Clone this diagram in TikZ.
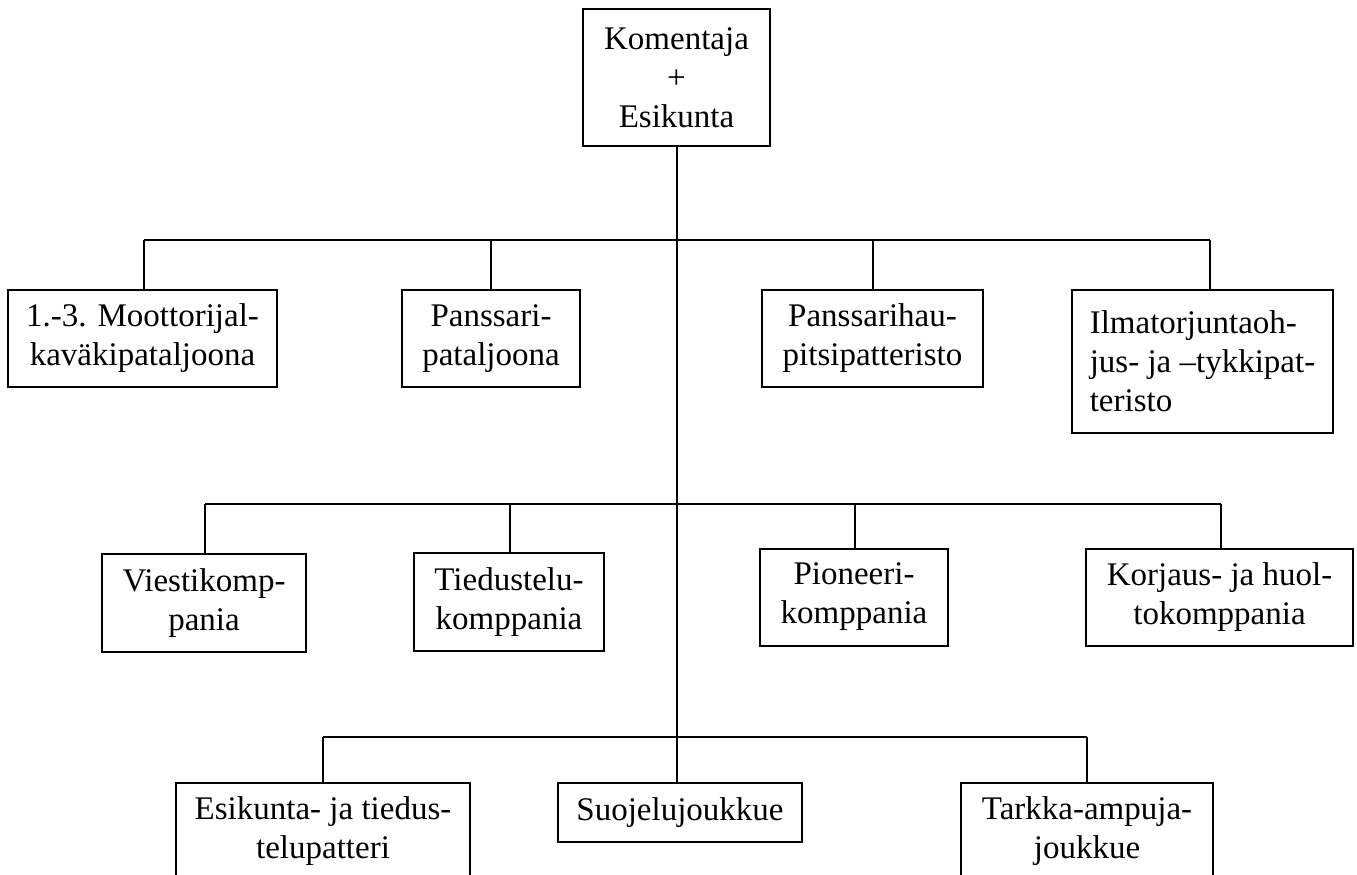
\documentclass[tikz,border=0pt]{standalone}
\usepackage{fontspec}
\setmainfont{Liberation Serif}
\begin{document}
\begin{tikzpicture}[x=1pt,y=-1pt,
  box/.style={draw=black, line width=2pt, fill=white, inner sep=2pt,
    align=center, font=\fontsize{33}{39}\selectfont},
  link/.style={draw=black, line width=2pt}]
\useasboundingbox (0,0) rectangle (1357,875);
\clip (0,0) rectangle (1357,875);
% top
\node[box, minimum width=187, minimum height=137] (top) at (676.5,77.5) {Komentaja\\+\\Esikunta};
% row 1
\node[box, minimum width=269, minimum height=97] (b1) at (142.5,338.5) {1.-3. Moottorijal-\\kaväkipataljoona};
\node[box, minimum width=178, minimum height=97] (b2) at (491,338.5) {Panssari-\\pataljoona};
\node[box, minimum width=221, minimum height=97] (b3) at (872.5,338.5) {Panssarihau-\\pitsipatteristo};
\node[box, align=left, minimum width=261, minimum height=143] (b4) at (1202.5,361.5) {Ilmatorjuntaoh-\\jus- ja –tykkipat-\\teristo};
% row 2
\node[box, minimum width=204, minimum height=98] (v) at (204,603) {Viestikomp-\\pania};
\node[box, minimum width=190, minimum height=98] (t) at (509,602) {Tiedustelu-\\komppania};
\node[box, minimum width=188, minimum height=97] (p) at (854,597) {Pioneeri-\\komppania};
\node[box, minimum width=267, minimum height=97] (k) at (1219.5,597) {Korjaus- ja huol-\\tokomppania};
% row 3
\node[box, minimum width=294, minimum height=97] (e) at (323,831.5) {Esikunta- ja tiedus-\\telupatteri};
\node[box, minimum width=244, minimum height=59] (s) at (680,812.5) {Suojelujoukkue};
\node[box, minimum width=252, minimum height=97] (ta) at (1087,831.5) {Tarkka-ampuja-\\joukkue};
% buses
\coordinate (r1a) at (144,240);
\coordinate (r1b) at (491,240);
\coordinate (r1c) at (873,240);
\coordinate (r1d) at (1210,240);
\coordinate (r2a) at (205,504);
\coordinate (r2b) at (510,504);
\coordinate (r2c) at (855,504);
\coordinate (r2d) at (1221,504);
\coordinate (r3a) at (323,737);
\coordinate (r3b) at (1087,737);
% trunk
\draw[link] (top.south) -- (top.south |- s.north);
% row 1
\draw[link] (r1a) -- (r1d);
\draw[link] (r1a) -- (r1a |- b1.north);
\draw[link] (r1b) -- (r1b |- b2.north);
\draw[link] (r1c) -- (r1c |- b3.north);
\draw[link] (r1d) -- (r1d |- b4.north);
% row 2
\draw[link] (r2a) -- (r2d);
\draw[link] (r2a) -- (r2a |- v.north);
\draw[link] (r2b) -- (r2b |- t.north);
\draw[link] (r2c) -- (r2c |- p.north);
\draw[link] (r2d) -- (r2d |- k.north);
% row 3
\draw[link] (r3a) -- (r3b);
\draw[link] (r3a) -- (r3a |- e.north);
\draw[link] (r3b) -- (r3b |- ta.north);
\end{tikzpicture}
\end{document}
